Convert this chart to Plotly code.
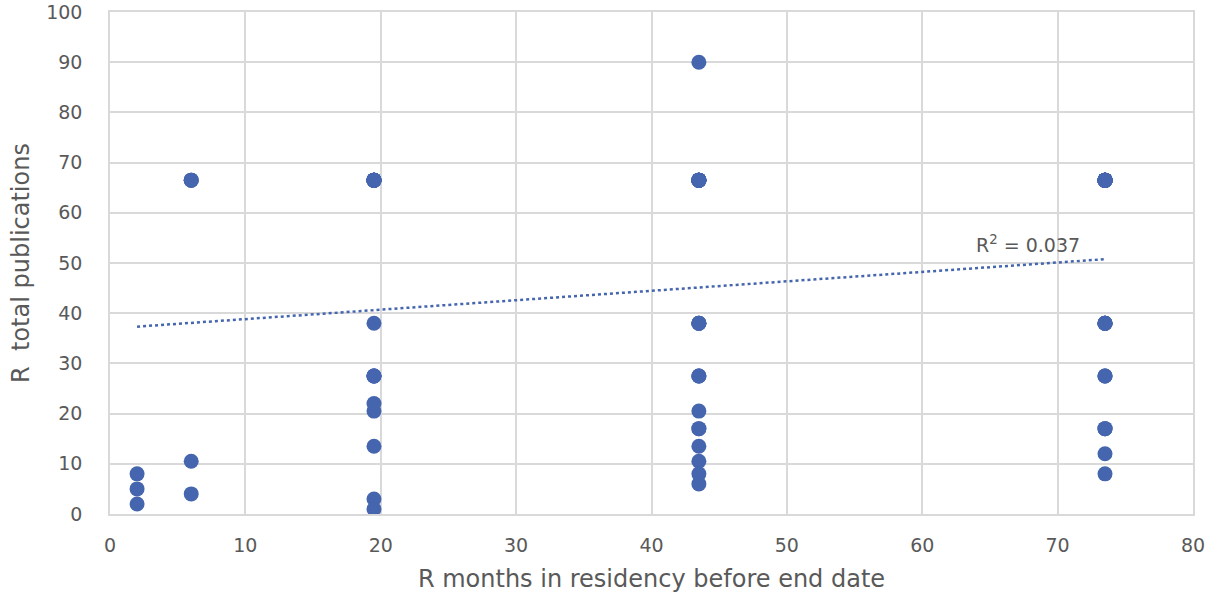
import numpy as np
import plotly.graph_objects as go

# Ranked data (tied ranks averaged); overlapping points are duplicated
months_rank = [
    2, 2, 2,
    6, 6, 6, 6, 6,
    19.5, 19.5, 19.5, 19.5, 19.5, 19.5, 19.5, 19.5, 19.5, 19.5, 19.5,
    19.5, 19.5, 19.5, 19.5, 19.5, 19.5, 19.5, 19.5, 19.5, 19.5, 19.5,
    43.5, 43.5, 43.5, 43.5, 43.5, 43.5, 43.5, 43.5, 43.5, 43.5, 43.5, 43.5, 43.5,
    43.5, 43.5, 43.5, 43.5, 43.5, 43.5, 43.5, 43.5, 43.5, 43.5, 43.5, 43.5, 43.5,
    73.5, 73.5, 73.5, 73.5, 73.5, 73.5, 73.5, 73.5, 73.5, 73.5, 73.5, 73.5,
    73.5, 73.5, 73.5, 73.5, 73.5, 73.5, 73.5, 73.5, 73.5, 73.5, 73.5, 73.5,
    73.5, 73.5, 73.5, 73.5, 73.5, 73.5, 73.5, 73.5, 73.5, 73.5,
]
pubs_rank = [
    8, 5, 2,
    66.5, 66.5, 66.5, 10.5, 4,
    66.5, 66.5, 66.5, 66.5, 66.5, 66.5, 66.5, 66.5, 66.5, 66.5, 66.5,
    66.5, 38, 27.5, 27.5, 27.5, 27.5, 22, 20.5, 13.5, 3, 1,
    90, 66.5, 66.5, 66.5, 66.5, 66.5, 66.5, 66.5, 66.5, 66.5, 66.5, 66.5, 38,
    38, 38, 38, 27.5, 27.5, 27.5, 20.5, 17, 17, 13.5, 10.5, 8, 6,
    66.5, 66.5, 66.5, 66.5, 66.5, 66.5, 66.5, 66.5, 66.5, 66.5, 66.5, 66.5,
    66.5, 66.5, 66.5, 66.5, 66.5, 66.5, 66.5, 66.5, 38, 38, 38, 38,
    38, 38, 27.5, 27.5, 27.5, 17, 17, 17, 12, 8,
]
x_ticks = [0, 10, 20, 30, 40, 50, 60, 70, 80]
y_ticks = [0, 10, 20, 30, 40, 50, 60, 70, 80, 90, 100]
r2_label = "R<sup>2</sup> = 0.037"

x = np.array(months_rank, dtype=float)
y = np.array(pubs_rank, dtype=float)
slope, intercept = np.polyfit(x, y, 1)
trend_x = np.array([x.min(), x.max()])
trend_y = slope * trend_x + intercept

blue = "#4566AE"
grey_text = "#595959"
grid = "#D9D9D9"
font_family = "'DejaVu Sans', sans-serif"

fig = go.Figure()
fig.add_trace(go.Scatter(
    x=months_rank, y=pubs_rank, mode="markers",
    marker=dict(size=15, color=blue, line=dict(width=0)),
    showlegend=False, hoverinfo="x+y",
))
fig.add_trace(go.Scatter(
    x=trend_x, y=trend_y, mode="lines",
    line=dict(color=blue, width=2.5, dash="dot"),
    showlegend=False, hoverinfo="skip",
))
fig.add_annotation(
    x=67.8, y=53.8, xref="x", yref="y", text=r2_label, showarrow=False,
    font=dict(family=font_family, size=19, color=grey_text),
)

fig.update_layout(
    width=1208, height=596,
    margin=dict(l=110, r=15, t=12, b=82),
    paper_bgcolor="white", plot_bgcolor="white",
    font=dict(family=font_family, color=grey_text),
    xaxis=dict(
        range=[0, 80], tickvals=x_ticks, showgrid=True, gridcolor=grid, gridwidth=1.5,
        zeroline=False, showline=True, linecolor=grid, linewidth=1.5, mirror=True,
        tickfont=dict(size=19, color=grey_text), ticks="", ticklabelstandoff=13,
        automargin=False,
        title=dict(text="R months in residency before end date",
                   font=dict(size=24, color=grey_text), standoff=16),
    ),
    yaxis=dict(
        range=[0, 100], tickvals=y_ticks, showgrid=True, gridcolor=grid, gridwidth=1.5,
        zeroline=False, showline=True, linecolor=grid, linewidth=1.5, mirror=True,
        tickfont=dict(size=19, color=grey_text), ticks="", ticklabelstandoff=22,
        automargin=False,
        title=dict(text="R  total publications",
                   font=dict(size=24, color=grey_text), standoff=10),
    ),
)

fig.write_html(
    "out.html",
    config={"displayModeBar": False},
    post_script="document.body.style.margin='0';document.body.style.padding='0';",
)
